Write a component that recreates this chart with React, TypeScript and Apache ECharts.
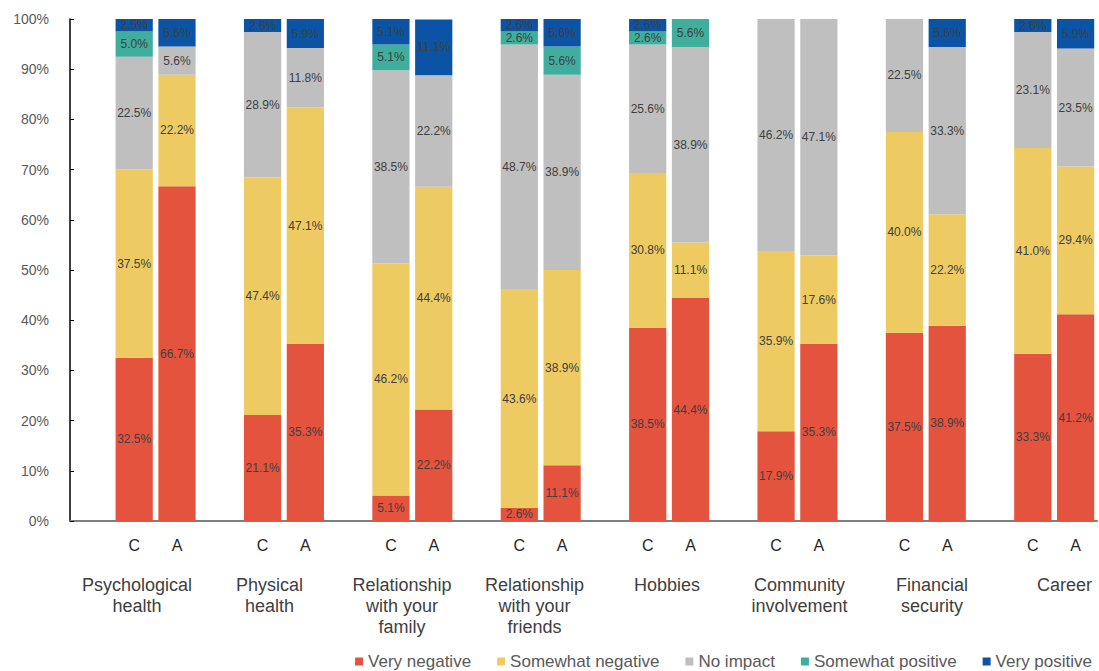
import React, { useEffect, useRef } from "react";
import * as echarts from "echarts";

const groups = [
  "Psychological\nhealth",
  "Physical\nhealth",
  "Relationship\nwith your\nfamily",
  "Relationship\nwith your\nfriends",
  "Hobbies",
  "Community\ninvolvement",
  "Financial\nsecurity",
  "Career",
];
const respondents = ["C", "A"];
const yTicks = [0, 10, 20, 30, 40, 50, 60, 70, 80, 90, 100];

const seriesNames = ["Very negative", "Somewhat negative", "No impact", "Somewhat positive", "Very positive"];
const seriesColors = ["#E4533D", "#EDCB62", "#BFBFBF", "#3FAE9D", "#0A53A5"];

const veryNegativeC = [32.5, 21.1, 5.1, 2.6, 38.5, 17.9, 37.5, 33.3];
const veryNegativeA = [66.7, 35.3, 22.2, 11.1, 44.4, 35.3, 38.9, 41.2];
const somewhatNegativeC = [37.5, 47.4, 46.2, 43.6, 30.8, 35.9, 40.0, 41.0];
const somewhatNegativeA = [22.2, 47.1, 44.4, 38.9, 11.1, 17.6, 22.2, 29.4];
const noImpactC = [22.5, 28.9, 38.5, 48.7, 25.6, 46.2, 22.5, 23.1];
const noImpactA = [5.6, 11.8, 22.2, 38.9, 38.9, 47.1, 33.3, 23.5];
const somewhatPositiveC = [5.0, 0, 5.1, 2.6, 2.6, 0, 0, 0];
const somewhatPositiveA = [0, 0, 0, 5.6, 5.6, 0, 0, 0];
const veryPositiveC = [2.5, 2.6, 5.1, 2.6, 2.6, 0, 0, 2.6];
const veryPositiveA = [5.6, 5.9, 11.1, 5.6, 0, 0, 5.6, 5.9];

const seriesC = [veryNegativeC, somewhatNegativeC, noImpactC, somewhatPositiveC, veryPositiveC];
const seriesA = [veryNegativeA, somewhatNegativeA, noImpactA, somewhatPositiveA, veryPositiveA];

// slots: blank, C, A for each group
const slots: string[] = [];
groups.forEach(() => {
  slots.push("", respondents[0], respondents[1]);
});

function buildData(cVals: number[], aVals: number[]) {
  const out: (number | null)[] = [];
  for (let i = 0; i < groups.length; i++) {
    out.push(null, cVals[i], aVals[i]);
  }
  return out;
}

export default function App() {
  const ref = useRef<HTMLDivElement>(null);
  useEffect(() => {
    if (!ref.current) return;
    const chart = echarts.init(ref.current, null, { renderer: "svg" });
    const font = "'Liberation Sans', Arial, sans-serif";
    const option: any = {
      animation: false,
      textStyle: { fontFamily: font },
      legend: {
        right: 2,
        bottom: -4,
        itemWidth: 8,
        itemHeight: 8,
        itemGap: 26,
        icon: "rect",
        textStyle: { fontSize: 17, color: "#595959", fontFamily: font },
        data: seriesNames,
      },
      grid: [
        { left: 70, right: 2, top: 19, bottom: 150 },
        { left: 137, right: 34.5, top: 19, bottom: 150 },
      ],
      xAxis: [
        {
          type: "category",
          gridIndex: 0,
          data: slots,
          axisLine: { lineStyle: { color: "#7f7f7f", width: 2 } },
          axisTick: { show: false },
          axisLabel: { interval: 0, margin: 16, fontSize: 16, color: "#262626", fontFamily: font },
        },
        {
          type: "category",
          gridIndex: 1,
          data: groups,
          boundaryGap: false,
          axisLine: { show: false },
          axisTick: { show: false },
          axisLabel: {
            interval: 0,
            margin: 53,
            fontSize: 18,
            lineHeight: 21,
            color: "#404040",
            fontFamily: font,
            verticalAlign: "top",
          },
        },
      ],
      yAxis: [
        {
          type: "value",
          gridIndex: 0,
          min: 0,
          max: 100,
          interval: 10,
          splitLine: { show: false },
          axisLine: { show: true, lineStyle: { color: "#000", width: 1.5 } },
          axisTick: { show: true, inside: true, length: 4, lineStyle: { color: "#000" } },
          axisLabel: {
            margin: 21,
            fontSize: 14,
            color: "#595959",
            fontFamily: font,
            formatter: (v: number) => (yTicks.includes(v) ? v + "%" : ""),
          },
        },
        { type: "value", gridIndex: 1, min: 0, max: 100, show: false },
      ],
      series: seriesNames.map((name, k) => ({
        name,
        type: "bar",
        stack: "total",
        xAxisIndex: 0,
        yAxisIndex: 0,
        barCategoryGap: "13%",
        itemStyle: { color: seriesColors[k] },
        label: {
          show: true,
          position: "inside",
          fontSize: 12,
          color: "#404040",
          fontFamily: font,
          formatter: (p: any) => (p.value ? Number(p.value).toFixed(1) + "%" : ""),
        },
        data: buildData(seriesC[k], seriesA[k]),
      })),
    };
    chart.setOption(option);
    return () => chart.dispose();
  }, []);
  return <div ref={ref} style={{ width: 1099, height: 671, position: "absolute", left: 0, top: 0 }} />;
}
